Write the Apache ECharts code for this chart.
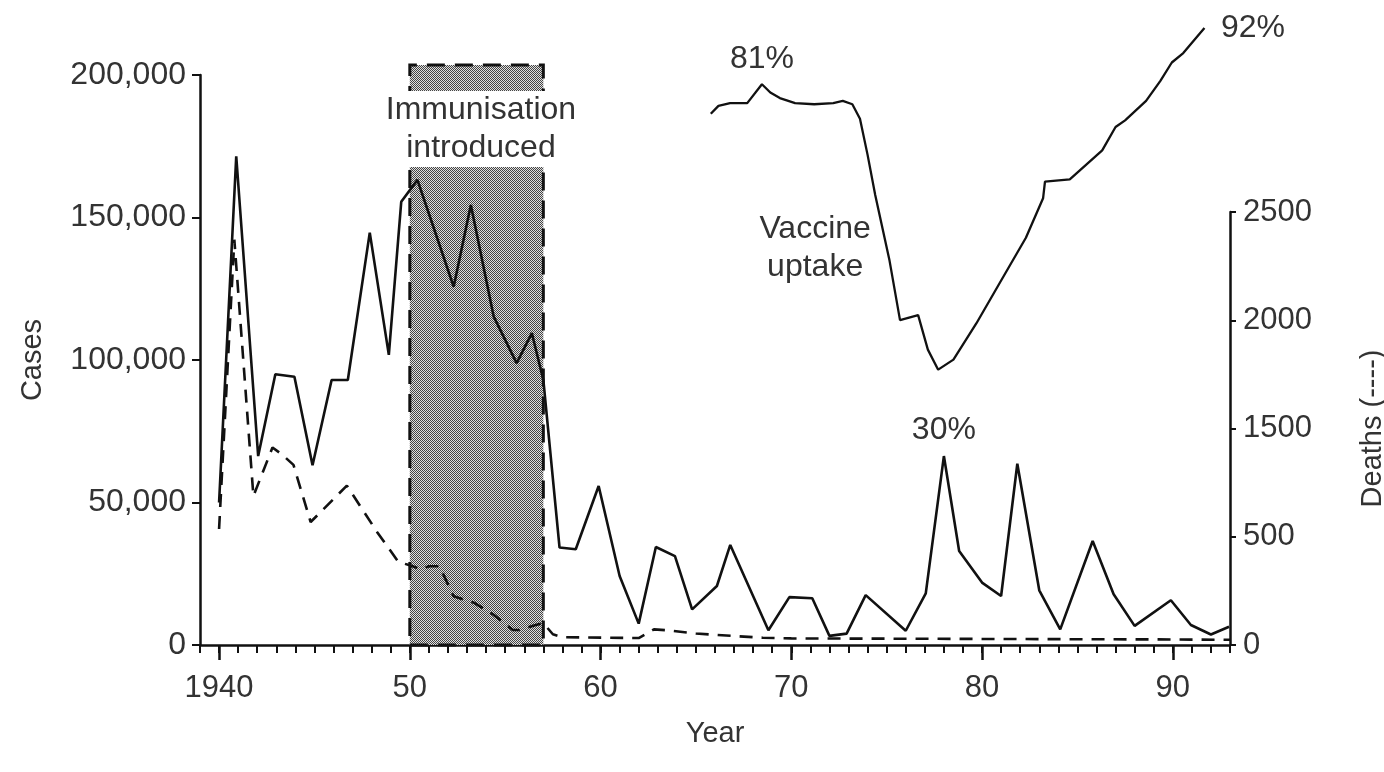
<!DOCTYPE html>
<html><head><meta charset="utf-8">
<script src="https://cdn.jsdelivr.net/npm/echarts@6/dist/echarts.min.js"></script>
<style>html,body{margin:0;padding:0;background:#fff;}#c{width:1384px;height:772px;}</style>
</head><body><div id="c"></div>
<script>
// ---- data ----
const caseYears = [1940.0,1940.9,1942.05,1942.95,1943.95,1944.9,1945.9,1946.75,1947.9,1948.9,1949.55,1950.4,1952.3,1953.2,1954.4,1955.6,1956.4,1957.0,1957.85,1958.7,1959.9,1961.0,1962.0,1962.9,1963.9,1964.8,1966.1,1966.8,1968.8,1969.9,1971.1,1972.0,1972.9,1973.9,1976.0,1977.05,1978.0,1978.8,1980.0,1981.0,1981.85,1983.0,1984.1,1985.8,1986.9,1988.0,1989.9,1990.95,1992.0,1992.95];
const caseValues = [50000,171500,66300,95000,94100,63100,93000,93000,144700,101800,155500,163200,125700,154400,115200,98900,109400,93000,34200,33600,55800,24200,7500,34400,31200,12500,20700,35100,5200,16800,16400,3200,4000,17500,5000,18100,66300,33000,21900,17200,63600,19200,5500,36500,17800,6700,15700,7000,3700,6400];

const deathYears = [1940.0,1940.8,1941.8,1942.8,1943.3,1943.9,1944.8,1946.7,1948.3,1949.4,1950.0,1950.6,1951.0,1951.55,1952.3,1953.1,1953.4,1954.4,1955.4,1955.75,1956.6,1957.0,1957.5,1958.0,1962.0,1962.8,1963.5,1965.0,1967.0,1968.5,1970.0,1980.0,1990.0,1993.0];
const deathValues = [670,2340,860,1140,1100,1040,710,920,650,480,460,436,455,455,281,252,242,174,87,87,116,126,62,45,40,90,85,66,52,42,38,35,32,30];

const uptakeYears = [1965.78,1966.18,1966.79,1967.69,1968.46,1968.9,1969.4,1970.2,1971.2,1972.2,1972.7,1973.2,1973.6,1974.0,1974.4,1975.15,1975.7,1976.65,1977.16,1977.7,1978.5,1979.7,1981.1,1982.3,1983.2,1983.3,1984.6,1986.3,1987.0,1987.5,1988.6,1989.35,1989.95,1990.55,1991.66];
const uptakeValues = [76.6,78.0,78.5,78.5,81.9,80.4,79.4,78.5,78.3,78.5,78.9,78.3,75.7,69.2,62.0,50.2,39.5,40.4,34.2,30.6,32.4,38.9,47.2,54.3,61.4,64.4,64.8,70.0,74.2,75.4,78.9,82.5,85.8,87.5,92.0];

const caseTickLabels = ['0','50,000','100,000','150,000','200,000'];
const deathTickLabels = ['0','500','1500','2000','2500'];
const yearTicks = [1940,1950,1960,1970,1980,1990];
const yearTickLabels = ['1940','50','60','70','80','90'];
const immunisationYears = [1950, 1957];

// ---- chart ----
const zip = (xs, ys) => xs.map((x, i) => [x, ys[i]]);
const FONT = 'Liberation Sans';
const TXT = '#333';
const INK = '#111';

const pc = document.createElement('canvas');
pc.width = 2; pc.height = 2;
const g = pc.getContext('2d');
g.fillStyle = '#e0e0e0'; g.fillRect(0, 0, 2, 2);
g.fillStyle = '#444'; g.fillRect(0, 0, 1, 1); g.fillRect(1, 1, 1, 1);

const chart = echarts.init(document.getElementById('c'), null, {renderer: 'canvas'});
const gridBase = {left: 200, right: 154, containLabel: false, outerBoundsMode: 'none'};
const xBase = {type: 'value', min: 1939, max: 1993, splitLine: {show: false}};
const annot = (coord, text, extra) => Object.assign({
  coord: coord, symbol: 'rect', symbolSize: 1, itemStyle: {color: 'rgba(0,0,0,0)'},
  label: {show: true, position: 'inside', formatter: text, color: TXT, fontFamily: FONT, fontSize: 32, lineHeight: 38}
}, extra || {});

chart.setOption({
  animation: false,
  backgroundColor: '#fff',
  textStyle: {fontFamily: FONT},
  grid: [
    Object.assign({}, gridBase, {top: 75, bottom: 127}),
    Object.assign({}, gridBase, {top: 212, bottom: 127}),
    Object.assign({}, gridBase, {top: 28, bottom: 399}),
    Object.assign({}, gridBase, {top: 65, bottom: 127})
  ],
  xAxis: [
    Object.assign({}, xBase, {gridIndex: 0, position: 'bottom', interval: 1,
      axisLine: {onZero: false, lineStyle: {color: INK, width: 2.5}},
      axisTick: {length: 8, lineStyle: {color: INK, width: 2}},
      axisLabel: {show: false},
      name: 'Year', nameLocation: 'middle', nameGap: 74,
      nameTextStyle: {color: TXT, fontSize: 29, fontFamily: FONT}}),
    Object.assign({}, xBase, {gridIndex: 0, position: 'bottom',
      axisLine: {show: false, onZero: false},
      axisTick: {show: true, length: 15, customValues: yearTicks, lineStyle: {color: INK, width: 2.5}},
      axisLabel: {customValues: yearTicks, margin: 28, color: TXT, fontSize: 31, fontFamily: FONT,
        formatter: v => yearTickLabels[yearTicks.indexOf(Math.round(v))]}}),
    Object.assign({}, xBase, {gridIndex: 1, show: false}),
    Object.assign({}, xBase, {gridIndex: 2, show: false}),
    Object.assign({}, xBase, {gridIndex: 3, show: false})
  ],
  yAxis: [
    {gridIndex: 0, type: 'value', min: 0, max: 200000, interval: 50000, position: 'left',
      axisLine: {show: true, lineStyle: {color: INK, width: 2.5}},
      axisTick: {show: true, length: 8, lineStyle: {color: INK, width: 2}},
      splitLine: {show: false},
      axisLabel: {margin: 14, color: TXT, fontSize: 32, fontFamily: FONT,
        formatter: v => caseTickLabels[Math.round(v / 50000)]},
      name: 'Cases', nameLocation: 'middle', nameGap: 153, nameRotate: 90,
      nameTextStyle: {color: TXT, fontSize: 29, fontFamily: FONT}},
    {gridIndex: 1, type: 'value', min: 0, max: 2500, interval: 625, position: 'right',
      axisLine: {show: true, lineStyle: {color: INK, width: 2.5}},
      axisTick: {show: true, length: 6, lineStyle: {color: INK, width: 2}},
      splitLine: {show: false},
      axisLabel: {margin: 13, color: TXT, fontSize: 31, fontFamily: FONT,
        formatter: v => deathTickLabels[Math.round(v / 625)]},
      name: 'Deaths (----)', nameLocation: 'middle', nameGap: 128, nameRotate: 90,
      nameTextStyle: {color: TXT, fontSize: 29, fontFamily: FONT}},
    {gridIndex: 2, type: 'value', min: 30, max: 92, show: false},
    {gridIndex: 3, type: 'value', min: 0, max: 203500, show: false}
  ],
  series: [
    {type: 'line', xAxisIndex: 4, yAxisIndex: 3, data: [], z: 1, clip: false, silent: true,
      markArea: {silent: true,
        itemStyle: {color: {image: pc, repeat: 'repeat'}, borderColor: INK, borderWidth: 3, borderType: [18, 10]},
        data: [[{coord: [immunisationYears[0], 0]}, {coord: [immunisationYears[1], 203500]}]]}},
    {type: 'line', name: 'Cases', xAxisIndex: 0, yAxisIndex: 0, z: 3, clip: false,
      data: zip(caseYears, caseValues), symbol: 'none',
      lineStyle: {color: INK, width: 2.6},
      markPoint: {silent: true, data: [
        annot([1953.73, 181050], 'Immunisation\nintroduced', {label: {show: true, position: 'inside',
          formatter: 'Immunisation\nintroduced', color: TXT, fontFamily: FONT, fontSize: 32, lineHeight: 38,
          backgroundColor: '#fff', padding: [0, 3]}}),
        annot([1978.0, 75440], '30%')
      ]}},
    {type: 'line', name: 'Deaths', xAxisIndex: 2, yAxisIndex: 1, z: 3, clip: false,
      data: zip(deathYears, deathValues), symbol: 'none',
      lineStyle: {color: INK, width: 2.6, type: [13, 9]}},
    {type: 'line', name: 'Vaccine uptake', xAxisIndex: 3, yAxisIndex: 2, z: 3, clip: false,
      data: zip(uptakeYears, uptakeValues), symbol: 'none',
      lineStyle: {color: INK, width: 2.3},
      markPoint: {silent: true, data: [
        annot([1968.46, 81.9], '81%', {label: {show: true, position: 'top', distance: 9, formatter: '81%', color: TXT, fontFamily: FONT, fontSize: 32}}),
        annot([1991.66, 92.0], '92%', {label: {show: true, position: 'right', distance: 16, formatter: '92%', color: TXT, fontFamily: FONT, fontSize: 32}}),
        annot([1971.25, 52.5], 'Vaccine\nuptake')
      ]}}
  ]
});
</script></body></html>
